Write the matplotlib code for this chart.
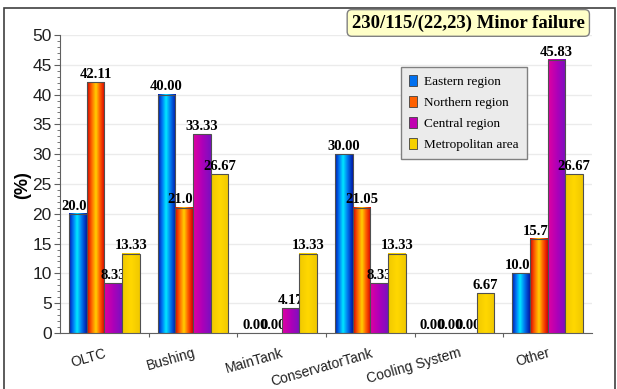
import numpy as np
import matplotlib
matplotlib.use('Agg')
import matplotlib.pyplot as plt
from matplotlib.colors import LinearSegmentedColormap
from matplotlib.patches import Rectangle, Patch

# data
categories = ['OLTC', 'Bushing', 'MainTank', 'ConservatorTank', 'Cooling System', 'Other']
series = ['Eastern region', 'Northern region', 'Central region', 'Metropolitan area']
eastern = [20.00, 40.00, 0.00, 30.00, 0.00, 10.00]
northern = [42.11, 21.05, 0.00, 21.05, 0.00, 15.79]
central = [8.33, 33.33, 4.17, 8.33, 0.00, 45.83]
metro = [13.33, 26.67, 13.33, 13.33, 6.67, 26.67]
values = [eastern, northern, central, metro]

# horizontal gradients to look like the shaded bars
cmaps = [
    LinearSegmentedColormap.from_list('b', [(0, '#0018B0'), (0.25, '#0080F8'), (0.45, '#00E8FF'),
                                            (0.7, '#0078F0'), (1, '#0018A8')]),
    LinearSegmentedColormap.from_list('o', [(0, '#D80000'), (0.28, '#FF7000'), (0.5, '#FFD000'),
                                            (0.72, '#FF6000'), (1, '#D80000')]),
    LinearSegmentedColormap.from_list('m', [(0, '#E000A0'), (0.5, '#B000B8'), (1, '#7A10C0')]),
    LinearSegmentedColormap.from_list('y', [(0, '#F0C800'), (0.5, '#FFD800'), (1, '#F0C800')]),
]
legend_colors = ['#0070F0', '#FF6000', '#C000B0', '#F5D000']

fig = plt.figure(figsize=(6.17, 3.89), dpi=100)
fig.patches.append(Rectangle((0.0065, -0.01), 0.99, 0.989, transform=fig.transFigure,
                             fill=False, edgecolor='#404040', linewidth=1.2))
ax = fig.add_axes([0.0972, 0.144, 0.8623, 0.766])

x = np.arange(len(categories))
w = 0.2
grad = np.linspace(0, 1, 64).reshape(1, -1)

for i, vals in enumerate(values):
    for j, v in enumerate(vals):
        x0 = x[j] - 0.4 + i * w
        if v > 0:
            ax.imshow(grad, extent=(x0, x0 + w, 0, v), aspect='auto', cmap=cmaps[i],
                      zorder=2 + 2 * i, interpolation='bilinear')
            ax.add_patch(Rectangle((x0, 0), w, v, fill=False, edgecolor='#505050',
                                   linewidth=0.8, zorder=2 + 2 * i))
        # next series' bars are drawn on top, so long labels get cut like in the original
        ax.text(x0 + w / 2, v + 0.2, '%.2f' % v, ha='center', va='bottom',
                fontsize=10.5, fontweight='bold', family='Liberation Serif', zorder=3 + 2 * i)

ax.set_xlim(-0.5, 5.5)
ax.set_ylim(0, 50)
ax.set_yticks(np.arange(0, 51, 5))
ax.set_yticks(np.arange(0, 51, 1), minor=True)
ax.yaxis.grid(True, color='#EBEBEB', linewidth=1, zorder=0)
ax.set_axisbelow(True)
for s in ['top', 'right']:
    ax.spines[s].set_visible(False)
ax.spines['left'].set_color('#606060')
ax.spines['bottom'].set_color('#606060')
ax.tick_params(axis='y', which='major', length=4, color='#606060', labelsize=12.5, pad=2)
ax.tick_params(axis='y', which='minor', length=2, color='#606060')
for lab in ax.get_yticklabels():
    lab.set_family('Liberation Sans')
    lab.set_color('#202020')

ax.set_xticks(np.arange(0.5, 5.5, 1))
ax.set_xticklabels([])
ax.tick_params(axis='x', length=3, color='#606060')
for j, c in enumerate(categories):
    ax.text(x[j], -2.2, c, rotation=16, rotation_mode='anchor', ha='right', va='top',
            fontsize=10, family='Liberation Sans', color='#202020')

handles = [Patch(facecolor=c, edgecolor='#404040', linewidth=0.6) for c in legend_colors]
leg = ax.legend(handles, series, loc='upper left', bbox_to_anchor=(0.628, 0.915),
                prop={'family': 'Liberation Serif', 'size': 9.5}, handlelength=0.6,
                handleheight=0.9, handletextpad=0.6, labelspacing=0.6, borderpad=0.6,
                fancybox=False, framealpha=1)
leg.get_frame().set_facecolor('#EBEBEB')
leg.get_frame().set_edgecolor('#808080')
leg.set_zorder(20)

fig.text(0.759, 0.941, '230/115/(22,23) Minor failure', ha='center', va='center',
         fontsize=13.5, fontweight='bold', family='Liberation Serif',
         bbox=dict(boxstyle='round,pad=0.25', facecolor='#FFFFC8', edgecolor='#808080'))
fig.text(0.036, 0.524, '(%)', rotation=90, ha='center', va='center', fontsize=13,
         fontweight='bold', family='Liberation Sans')

fig.savefig('out.png', dpi=100)
